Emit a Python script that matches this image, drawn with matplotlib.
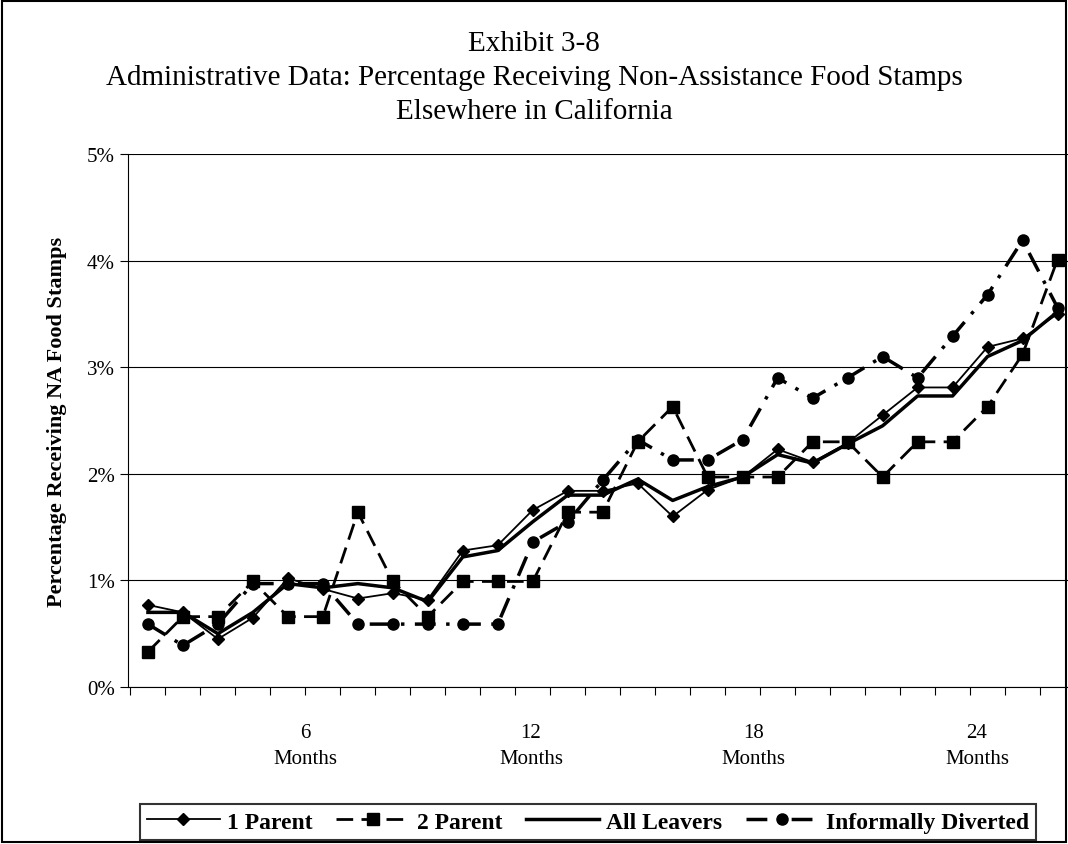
import matplotlib
matplotlib.use('Agg')
from matplotlib import pyplot as plt

months = list(range(1, 28))
one_parent = [0.77, 0.70, 0.45, 0.65, 1.02, 0.92, 0.83, 0.88, 0.82, 1.28, 1.33, 1.66, 1.84, 1.84,
              1.91, 1.60, 1.85, 1.97, 2.23, 2.11, 2.29, 2.55, 2.81, 2.81, 3.19, 3.27, 3.50]
two_parent = [0.33, 0.66, 0.66, 0.99, 0.66, 0.66, 1.64, 0.99, 0.66, 0.99, 0.99, 0.99, 1.64, 1.64,
              2.30, 2.63, 1.97, 1.97, 1.97, 2.30, 2.30, 1.97, 2.30, 2.30, 2.63, 3.12, 4.01]
all_leavers = [0.70, 0.70, 0.50, 0.70, 0.97, 0.93, 0.97, 0.93, 0.80, 1.22, 1.28, 1.55, 1.80, 1.80,
               1.95, 1.75, 1.88, 1.97, 2.18, 2.10, 2.28, 2.45, 2.73, 2.73, 3.10, 3.25, 3.52]
informal = [0.59, 0.39, 0.59, 0.97, 0.97, 0.97, 0.59, 0.59, 0.59, 0.59, 0.59, 1.36, 1.55, 1.94,
            2.32, 2.13, 2.13, 2.32, 2.90, 2.71, 2.90, 3.10, 2.90, 3.29, 3.68, 4.19, 3.56]
month_labels = ['6\nMonths', '12\nMonths', '18\nMonths', '24\nMonths']
label_pos = [5.5, 11.95, 18.3, 24.7]

plt.rcParams['font.family'] = ['Liberation Serif', 'DejaVu Serif']
fig = plt.figure(figsize=(10.68, 8.45), dpi=100)
ax = fig.add_axes([128/1068, 1-688/845, (1075-128)/1068, (688-155)/845])

ax.plot(months, one_parent, color='black', lw=1.3, marker='D', ms=6, label='1 Parent')
ax.plot(months, two_parent, color='black', lw=2, ls=(0, (6, 3)), marker='s', ms=8, label='2 Parent')
ax.plot(months, all_leavers, color='black', lw=2.5, label='All Leavers')
ax.plot(months, informal, color='black', lw=2.5, ls=(0, (6, 3, 1, 3)), marker='o', ms=8,
        label='Informally Diverted')

ax.set_xlim(0.43, 27.43)
ax.set_ylim(0, 5)
ax.set_yticks([0, 1, 2, 3, 4, 5])
ax.set_yticklabels(['%d%%' % v for v in range(6)], fontsize=15)
ax.yaxis.grid(True, color='black', lw=0.8)
ax.set_axisbelow(True)
ax.set_xticks([k + 0.5 for k in range(0, 28)])
ax.set_xticklabels([])
ax.tick_params(axis='x', direction='out', length=6)
ax.tick_params(axis='y', direction='out', length=6)
for pos, lab in zip(label_pos, month_labels):
    ax.text(pos, -0.068, lab, ha='center', va='top', fontsize=15, linespacing=1.5,
            transform=ax.get_xaxis_transform())
for side in ['top', 'right']:
    ax.spines[side].set_visible(False)
ax.set_ylabel('Percentage Receiving NA Food Stamps', fontsize=16, fontweight='bold', labelpad=14)

fig.text(0.5, 1-78/845, 'Exhibit 3-8\nAdministrative Data: Percentage Receiving Non-Assistance Food Stamps\nElsewhere in California',
         ha='center', va='center', fontsize=21, linespacing=1.4)

leg = fig.legend(loc='center', bbox_to_anchor=(588/1068, 1-823/845), ncol=4, frameon=True,
                 fancybox=False, edgecolor='black', handlelength=3.1, columnspacing=1.0,
                 handletextpad=0.3, borderpad=0.3, prop={'size': 17, 'weight': 'bold'})
leg.get_frame().set_linewidth(1.5)
fig.patches.append(plt.Rectangle((0.002, 0.002), 0.996, 0.996, transform=fig.transFigure,
                                 fill=False, edgecolor='black', lw=1.5))
plt.savefig('out.png', dpi=100)
